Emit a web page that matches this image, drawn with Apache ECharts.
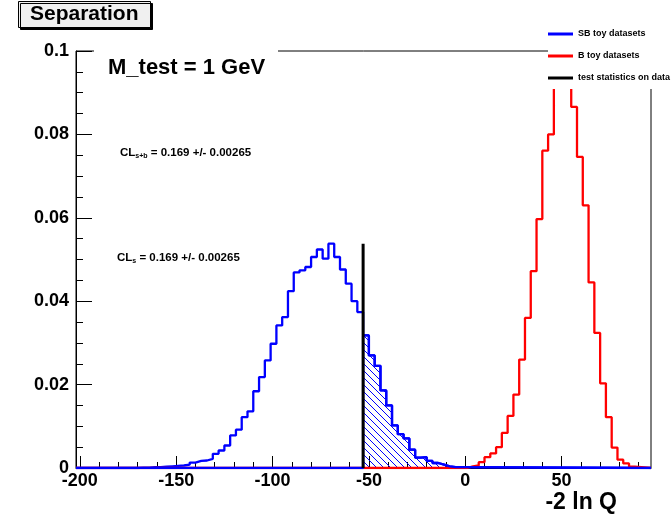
<!DOCTYPE html>
<html>
<head>
<meta charset="utf-8">
<script src="https://cdn.jsdelivr.net/npm/echarts@6.0.0/dist/echarts.min.js"></script>
<style>
html, body { margin: 0; padding: 0; background: #fff; }
#main { width: 671px; height: 521px; }
</style>
</head>
<body>
<div id="main"></div>
<script>
// histogram bins are 3 units wide
var binWidth = 3;
var xRange = [-202, 96.4];

// SB toy datasets, first bin starts at -170
var sbStart = -170;
var sbValues = [
    0.0001, 0.0001, 0.0002, 0.0002, 0.0003, 0.0004, 0.0005, 0.0006, 0.0008,
    0.0013, 0.0017, 0.0018, 0.0022, 0.0034, 0.0042, 0.0054, 0.0078, 0.0092, 0.0122,
    0.0136, 0.0184, 0.0218, 0.0258, 0.0298, 0.0342, 0.0362, 0.0424, 0.0469, 0.0474,
    0.0482, 0.0506, 0.0524, 0.0502, 0.0538, 0.0506, 0.0476, 0.0442, 0.0400, 0.0374,
    0.0318, 0.0270, 0.0245, 0.0186, 0.0150, 0.0102, 0.0081, 0.0071, 0.0044, 0.0025,
    0.0026, 0.0017, 0.0012, 0.0008, 0.0004, 0.0002, 0.0002
];

// B toy datasets, first bin starts at 1
var bStart = 1;
var bValues = [
    0.0004, 0.0006, 0.0014, 0.0026, 0.0035, 0.0050, 0.0084, 0.0125, 0.0176, 0.0260,
    0.0360, 0.0472, 0.0597, 0.0761, 0.0800, 0.1040, 0.1120, 0.1060, 0.0866, 0.0746,
    0.0630, 0.0445, 0.0324, 0.0203, 0.0122, 0.0049, 0.0020, 0.0011, 0.0003
];

// test statistic on data
var dataValue = -53;
var dataLineHeight = 0.0538;

var xLabelValues = [-200, -150, -100, -50, 0, 50];
var xMinorValues = [-190, -180, -170, -160, -140, -130, -120, -110, -90, -80, -70, -60,
    -40, -30, -20, -10, 10, 20, 30, 40, 60, 70, 80, 90];

var font = '"Liberation Sans", Arial, Helvetica, sans-serif';

// step points: value of a bin is held from its low edge to the next edge
function histData(start, values) {
    var pts = [[xRange[0], 0]];
    for (var i = 0; i < values.length; i++) {
        pts.push([start + i * binWidth, values[i]]);
    }
    pts.push([start + values.length * binWidth, 0]);
    pts.push([xRange[1], 0]);
    return pts;
}

var cut = Math.round((dataValue - sbStart) / binWidth);
var tailValues = sbValues.slice(cut);

// hatch for the tail beyond the data value
var hatch = document.createElement('canvas');
hatch.width = 7;
hatch.height = 7;
var hctx = hatch.getContext('2d');
hctx.strokeStyle = '#0000ff';
hctx.lineWidth = 1;
hctx.beginPath();
hctx.moveTo(-1, -1);
hctx.lineTo(8, 8);
hctx.stroke();

var clRich = {
    n: {fontSize: 11.5, fontWeight: 'bold', fontFamily: font, fill: '#000', lineHeight: 14, verticalAlign: 'middle'},
    s: {fontSize: 7, fontWeight: 'bold', fontFamily: font, fill: '#000', lineHeight: 14, verticalAlign: 'bottom'}
};

var myChart = echarts.init(document.getElementById('main'));
var option = {
    animation: false,
    backgroundColor: '#fff',
    title: {
        text: 'Separation',
        left: 18,
        top: 1,
        padding: [3, 12, 3, 12],
        backgroundColor: '#f0f0f0',
        borderColor: '#000',
        borderWidth: 1,
        shadowColor: '#000',
        shadowOffsetX: 2,
        shadowOffsetY: 2,
        shadowBlur: 0,
        textStyle: {fontSize: 21, fontWeight: 'bold', color: '#000', fontFamily: font}
    },
    legend: {
        data: ['SB toy datasets', 'B toy datasets', 'test statistics on data'],
        orient: 'vertical',
        left: 548,
        top: 22,
        padding: [6, 40, 5, 0],
        itemGap: 10,
        itemWidth: 25,
        itemHeight: 3,
        icon: 'rect',
        selectedMode: false,
        backgroundColor: '#fff',
        textStyle: {fontSize: 9, fontWeight: 'bold', color: '#000', lineHeight: 12, fontFamily: font}
    },
    grid: {
        left: 76,
        right: 20,
        top: 51,
        bottom: 53,
        show: true,
        borderColor: '#000',
        borderWidth: 1
    },
    xAxis: [{
        type: 'value',
        min: xRange[0],
        max: xRange[1],
        axisLine: {show: true, onZero: false, lineStyle: {color: '#000'}},
        axisTick: {inside: true, length: 12, customValues: xLabelValues, lineStyle: {color: '#000'}},
        axisLabel: {customValues: xLabelValues, fontSize: 18, fontWeight: 'bold', color: '#000', margin: 4, fontFamily: font},
        splitLine: {show: false}
    }, {
        type: 'value',
        position: 'bottom',
        min: xRange[0],
        max: xRange[1],
        axisLine: {show: false, onZero: false},
        axisTick: {inside: true, length: 6, customValues: xMinorValues, lineStyle: {color: '#000'}},
        axisLabel: {show: false},
        splitLine: {show: false}
    }],
    yAxis: {
        type: 'value',
        min: 0,
        max: 0.1,
        interval: 0.02,
        axisLine: {show: true, onZero: false, lineStyle: {color: '#000'}},
        axisTick: {inside: true, length: 16, lineStyle: {color: '#000'}},
        minorTick: {show: true, splitNumber: 4, length: 7, lineStyle: {color: '#000'}},
        splitLine: {show: false},
        minorSplitLine: {show: false},
        axisLabel: {fontSize: 18, fontWeight: 'bold', color: '#000', margin: 7, fontFamily: font}
    },
    graphic: [
        {type: 'rect', z: 10, shape: {x: 94, y: 44, width: 184, height: 46}, style: {fill: '#fff'}},
        {type: 'text', z: 11, x: 108, y: 68,
            style: {text: 'M_test = 1 GeV', font: 'bold 22px ' + font, fill: '#000', textVerticalAlign: 'middle'}},
        {type: 'text', z: 11, x: 120, y: 153,
            style: {text: '{n|CL}{s|s+b}{n| = 0.169 +/- 0.00265}', textVerticalAlign: 'middle', rich: clRich}},
        {type: 'text', z: 11, x: 117, y: 258,
            style: {text: '{n|CL}{s|s}{n| = 0.169 +/- 0.00265}', textVerticalAlign: 'middle', rich: clRich}},
        {type: 'text', z: 11, x: 617, y: 503,
            style: {text: '-2 ln Q', font: 'bold 23px ' + font, fill: '#000', textAlign: 'right', textVerticalAlign: 'middle'}}
    ],
    series: [{
        name: 'SB toy datasets',
        type: 'line',
        step: 'end',
        showSymbol: false,
        symbol: 'none',
        data: histData(sbStart, sbValues),
        itemStyle: {color: '#0000ff'},
        lineStyle: {color: '#0000ff', width: 2.3}
    }, {
        name: 'B toy datasets',
        type: 'line',
        step: 'end',
        showSymbol: false,
        symbol: 'none',
        data: histData(bStart, bValues),
        itemStyle: {color: '#ff0000'},
        lineStyle: {color: '#ff0000', width: 2.3}
    }, {
        name: 'SB tail',
        type: 'line',
        step: 'end',
        showSymbol: false,
        symbol: 'none',
        data: histData(dataValue, tailValues),
        itemStyle: {color: '#0000ff'},
        lineStyle: {color: '#0000ff', width: 2.3},
        areaStyle: {color: {image: hatch, repeat: 'repeat'}, opacity: 1}
    }, {
        name: 'test statistics on data',
        type: 'line',
        showSymbol: false,
        symbol: 'none',
        data: [[dataValue, 0], [dataValue, dataLineHeight]],
        itemStyle: {color: '#000'},
        lineStyle: {color: '#000', width: 3}
    }]
};
myChart.setOption(option);
</script>
</body>
</html>
